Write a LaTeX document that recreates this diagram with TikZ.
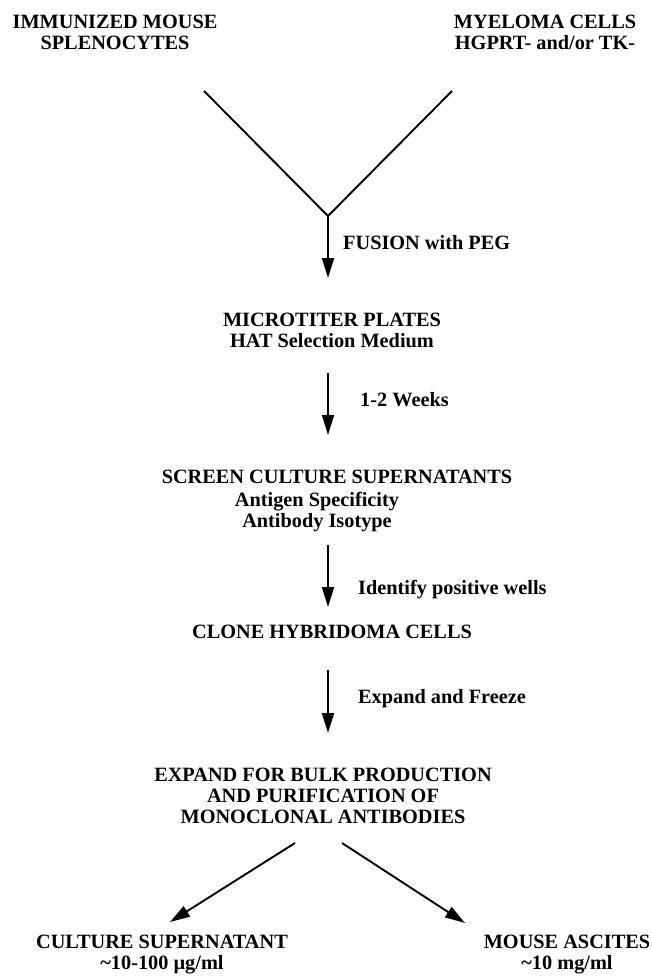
\documentclass[tikz,border=0pt]{standalone}
\usepackage{fontspec}
\setmainfont{Liberation Serif}
\usetikzlibrary{arrows.meta}

\begin{document}
\begin{tikzpicture}[x=10pt,y=10pt]
\tikzstyle{every node}+=[inner sep=0pt, align=center, font=\bfseries\fontsize{20.3}{21}\selectfont]
\tikzstyle{flow}=[black, line width=1.9pt, -{Triangle[length=20pt,width=12pt]}]
\useasboundingbox (0,0) rectangle (65.1,-97.6);
% starting cells
\node (spleen) at (11.5,-3.25) {IMMUNIZED MOUSE\\SPLENOCYTES};
\node (myeloma) at (54.5,-3.25) {MYELOMA CELLS\\HGPRT- and/or TK-};
\coordinate (spleenend) at (20.4,-9.1);
\coordinate (myelomaend) at (45.2,-9.1);
\coordinate (fuse) at (32.8,-21.6);
\draw [black, line width=1.9pt] (spleenend) -- (fuse) -- (myelomaend);
% fusion
\coordinate (platestop) at (32.8,-27.8);
\draw [flow] (fuse) -- (platestop);
\node [anchor=west] (fusionlbl) at (34.3,-24.3) {FUSION with PEG};
\node (plates) at (33.2,-33.05) {MICROTITER PLATES\\HAT Selection Medium};
% selection
\coordinate (platesbot) at (32.8,-37.3);
\coordinate (screentop) at (32.8,-43.5);
\draw [flow] (platesbot) -- (screentop);
\node [anchor=west] (weekslbl) at (36.0,-40.0) {1-2 Weeks};
\node (screen) at (33.7,-47.7) {SCREEN CULTURE SUPERNATANTS};
\node (assays) at (31.7,-51.2) {Antigen Specificity\\Antibody Isotype};
% cloning
\coordinate (assaysbot) at (32.8,-54.5);
\coordinate (clonetop) at (32.8,-60.7);
\draw [flow] (assaysbot) -- (clonetop);
\node [anchor=west] (identlbl) at (35.8,-59.0) {Identify positive wells};
\node (clone) at (33.2,-63.2) {CLONE HYBRIDOMA CELLS};
\coordinate (clonebot) at (32.8,-67.0);
\coordinate (bulktop) at (32.8,-73.3);
\draw [flow] (clonebot) -- (bulktop);
\node [anchor=west] (freezelbl) at (35.8,-69.9) {Expand and Freeze};
\node (bulk) at (32.3,-79.6) {EXPAND FOR BULK PRODUCTION\\AND PURIFICATION OF\\MONOCLONAL ANTIBODIES};
% products
\coordinate (bulkleft) at (29.5,-84.3);
\coordinate (bulkright) at (34.2,-84.3);
\coordinate (culturetop) at (17.0,-92.2);
\coordinate (ascitestop) at (46.5,-92.3);
\draw [flow] (bulkleft) -- (culturetop);
\draw [flow] (bulkright) -- (ascitestop);
\node (culture) at (16.2,-95.5) {CULTURE SUPERNATANT\\\textasciitilde10-100 µg/ml};
\node (ascites) at (56.7,-95.5) {MOUSE ASCITES\\\textasciitilde10 mg/ml};
\end{tikzpicture}
\end{document}
